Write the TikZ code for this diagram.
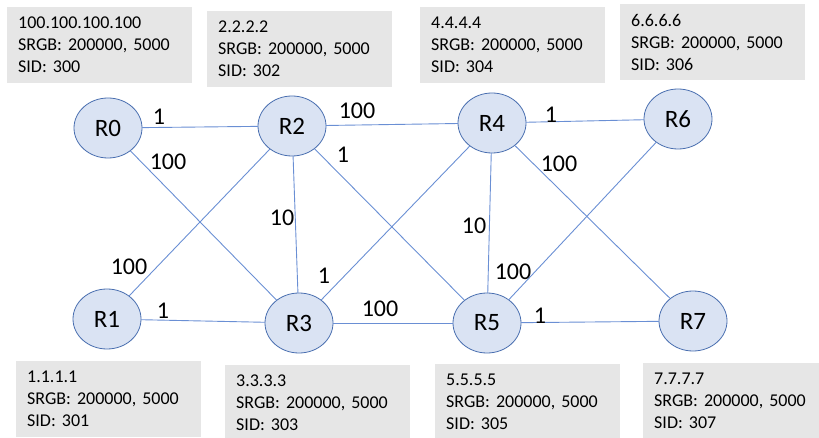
\documentclass[tikz,border=0pt]{standalone}
\usepackage{fontspec}
\setmainfont{Carlito}
\usepackage{tikz}
\usetikzlibrary{shapes.geometric}
\definecolor{nodefill}{HTML}{DAE3F3}
\definecolor{nodeline}{HTML}{4A6FB0}
\definecolor{link}{HTML}{6A8FD4}
\definecolor{boxgrey}{HTML}{E6E6E6}
\frenchspacing
\tikzset{
  Router/.style={
    ellipse, draw=nodeline, fill=nodefill, thick,
    minimum width=68pt, minimum height=60pt, inner sep=0pt,
    font=\fontsize{25}{28}\selectfont
  },
  InfoBox/.style={
    rectangle, fill=boxgrey, anchor=north west,
    minimum width=185pt, minimum height=76pt,
    text width=163pt, inner xsep=11pt, align=left,
    font=\fontsize{18}{22}\selectfont
  },
  Link/.style={draw=link, line width=0.9pt},
  Cost/.style={font=\fontsize{24}{26}\selectfont, inner sep=0pt}
}
\begin{document}
\begin{tikzpicture}[x=1pt, y=-1pt, line cap=round, line join=round]
  \useasboundingbox (0,0) rectangle (819,438);

  % info boxes, top row
  \node[InfoBox] (i0) at (7,7)   {100.100.100.100\\SRGB: 200000, 5000\\SID: 300};
  \node[InfoBox] (i2) at (207,11) {2.2.2.2\\SRGB: 200000, 5000\\SID: 302};
  \node[InfoBox] (i4) at (420,7)  {4.4.4.4\\SRGB: 200000, 5000\\SID: 304};
  \node[InfoBox] (i6) at (620,4)  {6.6.6.6\\SRGB: 200000, 5000\\SID: 306};
  % info boxes, bottom row
  \node[InfoBox] (i1) at (16,361)  {1.1.1.1\\SRGB: 200000, 5000\\SID: 301};
  \node[InfoBox] (i3) at (225,365) {3.3.3.3\\SRGB: 200000, 5000\\SID: 303};
  \node[InfoBox] (i5) at (435,364) {5.5.5.5\\SRGB: 200000, 5000\\SID: 305};
  \node[InfoBox] (i7) at (643,363) {7.7.7.7\\SRGB: 200000, 5000\\SID: 307};

  % routers
  \node[Router] (R0) at (108,128) {R0};
  \node[Router] (R2) at (292,126) {R2};
  \node[Router] (R4) at (492,123) {R4};
  \node[Router] (R6) at (678,119) {R6};
  \node[Router] (R1) at (107,319) {R1};
  \node[Router] (R3) at (299,323) {R3};
  \node[Router] (R5) at (487,323) {R5};
  \node[Router] (R7) at (693,321) {R7};

  % links
  \draw[Link] (R0) -- (R2);
  \draw[Link] (R0) -- (R3);
  \draw[Link] (R2) -- (R1);
  \draw[Link] (R1) -- (R3);
  \draw[Link] (R2) -- (R3);
  \draw[Link] (R2) -- (R4);
  \draw[Link] (R2) -- (R5);
  \draw[Link] (R3) -- (R4);
  \draw[Link] (R3) -- (R5);
  \draw[Link] (R4) -- (R5);
  \draw[Link] (R4) -- (R6);
  \draw[Link] (R4) -- (R7);
  \draw[Link] (R6) -- (R5);
  \draw[Link] (R5) -- (R7);

  % link costs
  \node[Cost] (c02) at (159,117) {1};
  \node[Cost] (c03) at (168,162) {100};
  \node[Cost] (c12) at (129,267) {100};
  \node[Cost] (c13) at (163,311) {1};
  \node[Cost] (c23) at (282,218) {10};
  \node[Cost] (c24) at (357,111) {100};
  \node[Cost] (c25) at (343,155) {1};
  \node[Cost] (c34) at (324,276) {1};
  \node[Cost] (c35) at (380,309) {100};
  \node[Cost] (c45) at (474,226) {10};
  \node[Cost] (c46) at (551,115) {1};
  \node[Cost] (c47) at (559,164) {100};
  \node[Cost] (c56) at (513,272) {100};
  \node[Cost] (c57) at (540,316) {1};
\end{tikzpicture}
\end{document}
